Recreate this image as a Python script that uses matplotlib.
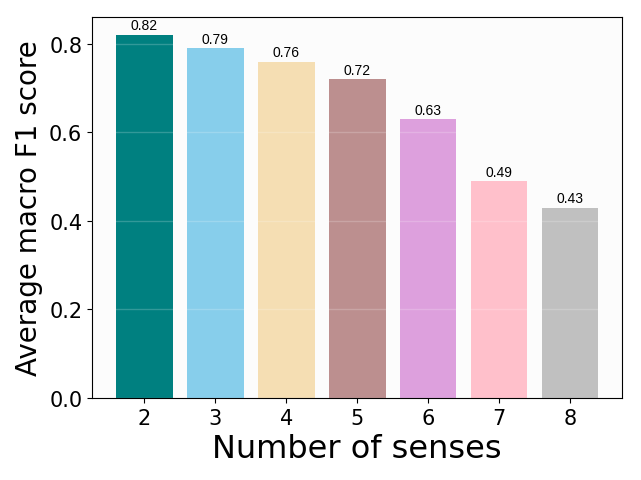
import matplotlib
matplotlib.use("Agg")
import matplotlib.pyplot as plt

senses = ["2", "3", "4", "5", "6", "7", "8"]
f1_scores = [0.82, 0.79, 0.76, 0.72, 0.63, 0.49, 0.43]
bar_colors = ["teal", "skyblue", "wheat", "rosybrown", "plum", "pink", "silver"]

fig, ax = plt.subplots(figsize=(6.41, 4.81), dpi=100)
ax.set_facecolor("#fcfcfc")

bars = ax.bar(senses, f1_scores, color=bar_colors, width=0.8)
ax.set_yticks([0.0, 0.2, 0.4, 0.6, 0.8])
ax.grid(axis="y", color="white", alpha=0.2, linewidth=1)
ax.set_axisbelow(False)

for b, v in zip(bars, f1_scores):
    ax.text(b.get_x() + b.get_width() / 2, v + 0.006, "%.2f" % v,
            ha="center", va="bottom", fontsize=10, family="Liberation Sans")

ax.set_ylim(0, 0.861)
ax.set_xlabel("Number of senses", fontsize=23)
ax.set_ylabel("Average macro F1 score", fontsize=20)
ax.tick_params(labelsize=15)

# tight_layout gave slightly different margins than the original
fig.subplots_adjust(left=0.1435, right=0.971, top=0.9626, bottom=0.1705)
plt.savefig("out.png")
